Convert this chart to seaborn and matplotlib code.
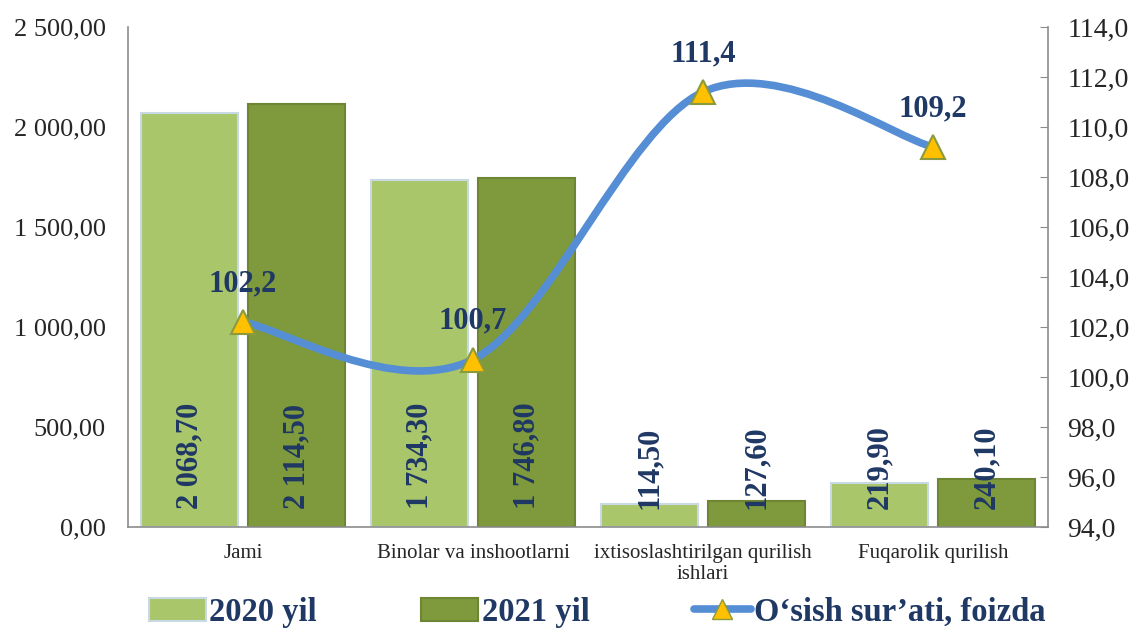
import numpy as np
import pandas as pd
import matplotlib
matplotlib.use("Agg")
import matplotlib.pyplot as plt
from matplotlib.path import Path
from matplotlib.patches import PathPatch, Patch
from matplotlib.lines import Line2D
from matplotlib.ticker import FixedLocator, FuncFormatter
import seaborn as sns

# data
categories = ["Jami", "Binolar va inshootlarni",
              "ixtisoslashtirilgan qurilish\nishlari", "Fuqarolik qurilish"]
series_names = ["2020 yil", "2021 yil"]
values_2020 = [2068.70, 1734.30, 114.50, 219.90]
values_2021 = [2114.50, 1746.80, 127.60, 240.10]
growth = [102.2, 100.7, 111.4, 109.2]
growth_name = "O\u2018sish sur\u2019ati, foizda"

left_ticks = [0, 500, 1000, 1500, 2000, 2500]
right_ticks = [94, 96, 98, 100, 102, 104, 106, 108, 110, 112, 114]

navy = "#1F3864"
c2020 = "#A9C66B"
c2021 = "#7E9A3D"
line_c = "#558ED5"

sns.set_style("white")
plt.rcParams["font.family"] = ["Liberation Serif", "DejaVu Serif"]

df = pd.DataFrame({
    "cat": categories * 2,
    "series": [series_names[0]] * 4 + [series_names[1]] * 4,
    "value": values_2020 + values_2021,
})

fig = plt.figure(figsize=(11.31, 6.31), dpi=100)
ax = fig.add_axes([128 / 1131, 104 / 631, 920 / 1131, 500 / 631])

sns.barplot(data=df, x="cat", y="value", hue="series", order=categories,
            hue_order=series_names, palette=[c2020, c2021], width=0.93,
            gap=0.1, saturation=1, ax=ax, legend=False)

edge_cols = ["#C9D9E3", "#6E8633"]
for container, ec in zip(ax.containers, edge_cols):
    for bar in container:
        bar.set_edgecolor(ec)
        bar.set_linewidth(1.5)

fmt_left = lambda v, pos=None: f"{v:,.2f}".replace(",", " ").replace(".", ",")
for container, vals in zip(ax.containers, [values_2020, values_2021]):
    for bar, v in zip(container, vals):
        ax.annotate(fmt_left(v), (bar.get_x() + bar.get_width() / 2, 0),
                    xytext=(0, 13), textcoords="offset points",
                    rotation=90, ha="center", va="bottom",
                    fontsize=22, fontweight="bold", color=navy)

ax.set_xlim(-0.5, 3.5)
ax.set_ylim(0, 2500)
ax.yaxis.set_major_locator(FixedLocator(left_ticks))
ax.yaxis.set_major_formatter(FuncFormatter(fmt_left))
ax.set_xlabel("")
ax.set_ylabel("")
ax.tick_params(axis="y", length=0, labelsize=19, pad=16)
ax.tick_params(axis="x", length=0, labelsize=15, pad=12)
for s in ["top", "right"]:
    ax.spines[s].set_visible(False)
for s in ["left", "bottom"]:
    ax.spines[s].set_color("#8C8C8C")
    ax.spines[s].set_linewidth(1.2)

# growth line on secondary axis, smoothed like the spreadsheet curve
ax2 = ax.twinx()
ax2.set_ylim(94, 114)
ax2.yaxis.set_major_locator(FixedLocator(right_ticks))
ax2.yaxis.set_major_formatter(FuncFormatter(lambda v, p: f"{v:.1f}".replace(".", ",")))
ax2.tick_params(axis="y", direction="in", length=6, color="#8C8C8C",
                labelsize=20, pad=14)
for s in ["top", "left", "bottom"]:
    ax2.spines[s].set_visible(False)
ax2.spines["right"].set_color("#8C8C8C")
ax2.spines["right"].set_linewidth(1.2)

xs = np.arange(len(growth), dtype=float)
pts = np.column_stack([xs, growth])
verts = [tuple(pts[0])]
codes = [Path.MOVETO]
n = len(pts)
for i in range(n - 1):
    p_prev = pts[max(i - 1, 0)]
    p_next2 = pts[min(i + 2, n - 1)]
    c1 = pts[i] + (pts[i + 1] - p_prev) / 6
    c2 = pts[i + 1] - (p_next2 - pts[i]) / 6
    verts += [tuple(c1), tuple(c2), tuple(pts[i + 1])]
    codes += [Path.CURVE4] * 3
ax2.add_patch(PathPatch(Path(verts, codes), facecolor="none", edgecolor=line_c,
                        lw=5.5, capstyle="round", zorder=3))
ax2.plot(xs, growth, ls="none", marker="^", markersize=17,
         markerfacecolor="#FFC000", markeredgecolor="#8A9A3C",
         markeredgewidth=1.5, zorder=4)
for x, g in zip(xs, growth):
    ax2.annotate(f"{g:.1f}".replace(".", ","), (x, g), xytext=(0, 17),
                 textcoords="offset points", ha="center", va="bottom",
                 fontsize=22, fontweight="bold", color=navy)

handles = [
    Patch(facecolor=c2020, edgecolor=edge_cols[0], linewidth=1.5),
    Patch(facecolor=c2021, edgecolor=edge_cols[1], linewidth=1.5),
    Line2D([0], [0], color=line_c, lw=5.5, marker="^", markersize=15,
           markerfacecolor="#FFC000", markeredgecolor="#8A9A3C"),
]
leg = fig.legend(handles, series_names + [growth_name], loc="center",
                 bbox_to_anchor=(0.528, 0.03), ncol=3, frameon=False,
                 handlelength=1.75, handletextpad=0.1, columnspacing=3.2,
                 prop={"size": 23.5, "weight": "bold"})
for t in leg.get_texts():
    t.set_color(navy)

fig.savefig("out.png", dpi=100)
